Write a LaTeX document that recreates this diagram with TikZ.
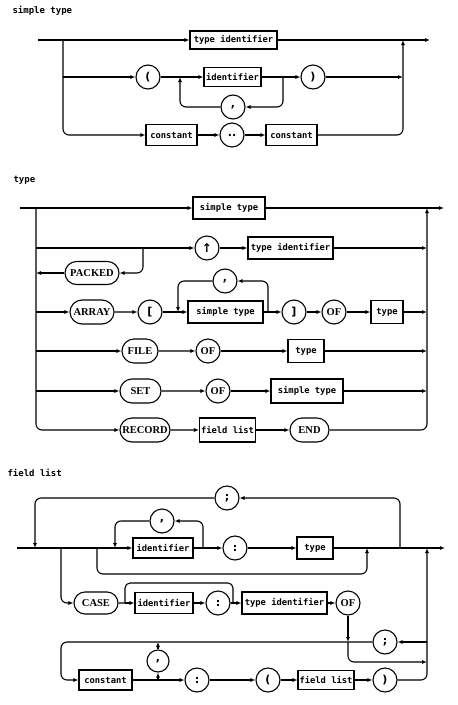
\documentclass[tikz,border=0pt]{standalone}
\usepackage{fontspec}
\newfontfamily\ntfont{DejaVu Sans Mono}
\newfontfamily\kwfont{Liberation Serif}
\newfontfamily\symfont{DejaVu Sans}
\usetikzlibrary{arrows.meta,shapes.misc}
\tikzset{
  ar/.style={-{Latex[length=5pt,width=4pt]}},
  nt/.style={draw,rectangle,minimum height=20pt,inner sep=1.5pt,font=\ntfont\bfseries\fontsize{8.8}{10}\selectfont},
  kw/.style={draw,rounded rectangle,minimum height=23pt,inner xsep=3pt,font=\kwfont\bfseries\fontsize{10.5}{12}\selectfont},
  sym/.style={draw,circle,minimum size=24pt,inner sep=0pt,font=\symfont\bfseries\fontsize{11}{12}\selectfont},
  symkw/.style={sym,font=\kwfont\bfseries\fontsize{10.5}{12}\selectfont},
  ttl/.style={anchor=west,inner sep=0pt,font=\ntfont\bfseries\fontsize{9}{10}\selectfont},
  rc/.style={rounded corners=6pt}
}
\begin{document}
\begin{tikzpicture}[x=1pt,y=-1pt,line width=1.1pt]
\useasboundingbox (0,0) rectangle (458,705);

% ================= simple type =================
\node[ttl] (sTitle) at (12,11) {simple type};
\coordinate (sIn) at (38,40);
\coordinate (sJ1) at (63,40);
\coordinate (sJ2) at (63,77);
\coordinate (sJ3) at (63,135);
\coordinate (sOut) at (430,40);
\coordinate (sR1) at (403,40);
\coordinate (sR2) at (403,77);
\coordinate (sR3) at (403,135);
\coordinate (sA) at (180,77);
\coordinate (sAb) at (180,107);
\coordinate (sB) at (283,77);
\coordinate (sBb) at (283,107);

\node[nt,minimum width=87pt,minimum height=18pt] (sTid) at (233.5,40) {type identifier};
\node[sym] (sLp) at (148,77) {(};
\node[nt,minimum width=57pt,minimum height=19pt] (sId) at (232.5,77) {identifier};
\node[sym] (sRp) at (313,77) {)};
\node[sym] (sCm) at (233,107) {,};
\node[nt,minimum width=51pt,minimum height=21pt] (sC1) at (171.5,135) {constant};
\node[sym] (sDd) at (232,135) {..};
\node[nt,minimum width=51pt,minimum height=21pt] (sC2) at (291.5,135) {constant};

\draw (sIn) -- (sJ1);
\draw[ar] (sJ1) -- (sTid);
\draw[ar] (sTid) -- (sOut);
\draw[ar,rc] (sJ1) -- (sJ3) -- (sC1);
\draw[ar] (sJ2) -- (sLp);
\draw (sLp) -- (sA);
\draw[ar] (sA) -- (sId);
\draw (sId) -- (sB);
\draw[ar] (sB) -- (sRp);
\draw[ar] (sRp) -- (sR2);
\draw[ar,rc] (sB) -- (sBb) -- (sCm);
\draw[ar,rc] (sCm) -- (sAb) -- (sA);
\draw[ar] (sC1) -- (sDd);
\draw[ar] (sDd) -- (sC2);
\draw[ar,rc] (sC2) -- (sR3) -- (sR1);

% ================= type =================
\node[ttl] (tTitle) at (13,180) {type};
\coordinate (tIn) at (20,208);
\coordinate (tJ1) at (36,208);
\coordinate (tJ2) at (36,248);
\coordinate (tJ3) at (36,273);
\coordinate (tJ4) at (36,312);
\coordinate (tJ5) at (36,351);
\coordinate (tJ6) at (36,391);
\coordinate (tJ7) at (36,430);
\coordinate (tOut) at (444,208);
\coordinate (tR1) at (427,208);
\coordinate (tR2) at (427,248);
\coordinate (tR4) at (427,312);
\coordinate (tR5) at (427,351);
\coordinate (tR6) at (427,391);
\coordinate (tR7) at (427,430);
\coordinate (tP1) at (143,248);
\coordinate (tP2) at (143,273);
\coordinate (tA) at (178,312);
\coordinate (tAt) at (178,281);
\coordinate (tB) at (268,312);
\coordinate (tBt) at (268,281);

\node[nt,minimum width=72pt,minimum height=22pt] (tSt) at (229,208) {simple type};
\node[sym,font=\symfont\bfseries\fontsize{12}{13}\selectfont] (tUp) at (207,248) {↑};
\node[nt,minimum width=85pt,minimum height=22pt] (tTid) at (290.5,248) {type identifier};
\node[kw,minimum width=60pt] (tPk) at (92,273) {PACKED};
\node[kw,minimum width=50pt,minimum height=24pt] (tAr) at (92,312) {ARRAY};
\node[sym] (tLb) at (150,312) {[};
\node[nt,minimum width=75pt,minimum height=22pt] (tSt2) at (225.5,312) {simple type};
\node[sym] (tCm) at (225,281) {,};
\node[sym] (tRb) at (294,312) {]};
\node[symkw] (tOf1) at (334,312) {OF};
\node[nt,minimum width=32pt,minimum height=23pt] (tTy1) at (387,312) {type};
\node[kw,minimum width=42pt,minimum height=24pt] (tFi) at (140,351) {FILE};
\node[symkw] (tOf2) at (208,351) {OF};
\node[nt,minimum width=36pt,minimum height=23pt] (tTy2) at (306,351) {type};
\node[kw,minimum width=47pt,minimum height=24pt] (tSe) at (140.5,391) {SET};
\node[symkw] (tOf3) at (218,391) {OF};
\node[nt,minimum width=72pt,minimum height=24pt] (tSt3) at (307,391) {simple type};
\node[kw,minimum width=56pt,minimum height=24pt] (tRe) at (145,430) {RECORD};
\node[nt,minimum width=55pt,minimum height=24pt] (tFl) at (227.5,430) {field list};
\node[kw,minimum width=45pt,minimum height=24pt] (tEn) at (309.5,430) {END};

\draw (tIn) -- (tJ1);
\draw[ar] (tJ1) -- (tSt);
\draw[ar] (tSt) -- (tOut);
\draw[ar,rc] (tJ1) -- (tJ7) -- (tRe);
\draw[ar] (tJ2) -- (tUp);
\draw[ar] (tUp) -- (tTid);
\draw[ar] (tTid) -- (tR2);
\draw[ar,rc] (tP1) -- (tP2) -- (tPk);
\draw[ar] (tPk) -- (tJ3);
\draw[ar] (tJ4) -- (tAr);
\draw[ar] (tAr) -- (tLb);
\draw (tLb) -- (tA);
\draw[ar] (tA) -- (tSt2);
\draw (tSt2) -- (tB);
\draw[ar] (tB) -- (tRb);
\draw[ar,rc] (tB) -- (tBt) -- (tCm);
\draw[ar,rc] (tCm) -- (tAt) -- (tA);
\draw[ar] (tRb) -- (tOf1);
\draw[ar] (tOf1) -- (tTy1);
\draw[ar] (tTy1) -- (tR4);
\draw[ar] (tJ5) -- (tFi);
\draw[ar] (tFi) -- (tOf2);
\draw[ar] (tOf2) -- (tTy2);
\draw[ar] (tTy2) -- (tR5);
\draw[ar] (tJ6) -- (tSe);
\draw[ar] (tSe) -- (tOf3);
\draw[ar] (tOf3) -- (tSt3);
\draw[ar] (tSt3) -- (tR6);
\draw[ar] (tRe) -- (tFl);
\draw[ar] (tFl) -- (tEn);
\draw[ar,rc] (tEn) -- (tR7) -- (tR1);

% ================= field list =================
\node[ttl] (fTitle) at (7,473) {field list};
\coordinate (fIn) at (17,548);
\coordinate (fL) at (35,548);
\coordinate (fLt) at (35,498);
\coordinate (fC) at (61,548);
\coordinate (fCb) at (61,603);
\coordinate (fBy) at (97,548);
\coordinate (fByb) at (97,574);
\coordinate (fByr) at (367,574);
\coordinate (fByt) at (367,548);
\coordinate (fS) at (115,548);
\coordinate (fSt) at (115,521);
\coordinate (fJ) at (203,548);
\coordinate (fJt) at (203,521);
\coordinate (fT) at (400,548);
\coordinate (fTt) at (400,498);
\coordinate (fR) at (427,548);
\coordinate (fOut) at (445,548);
\coordinate (fK) at (125,603);
\coordinate (fKt) at (125,583);
\coordinate (fM) at (233,603);
\coordinate (fMt) at (233,583);
\coordinate (fV1) at (348,642);
\coordinate (fV2) at (348,662);
\coordinate (fRb) at (427,662);
\coordinate (fRs) at (427,642);
\coordinate (fQ1) at (61,642);
\coordinate (fQ2) at (61,680);
\coordinate (fX) at (158,680);
\coordinate (fXt) at (158,642);
\coordinate (fRc) at (427,680);

\node[sym] (fSemi) at (227,498) {;};
\node[sym] (fCm) at (162,521) {,};
\node[nt,minimum width=60pt,minimum height=20pt] (fId) at (163,548) {identifier};
\node[sym] (fCo) at (235,548) {:};
\node[nt,minimum width=36pt,minimum height=22pt] (fTy) at (315,548) {type};
\node[kw,minimum width=50pt,minimum height=22pt] (fCase) at (96,603) {CASE};
\node[nt,minimum width=58pt,minimum height=21pt] (fId2) at (164,603) {identifier};
\node[sym] (fCo2) at (218,603) {:};
\node[nt,minimum width=85pt,minimum height=22pt] (fTid) at (284.5,603) {type identifier};
\node[symkw] (fOf) at (348,603) {OF};
\node[sym] (fSemi2) at (385,642) {;};
\node[nt,minimum width=53pt,minimum height=20pt] (fConst) at (105.5,680) {constant};
\node[sym,minimum size=22pt] (fCm2) at (158,661) {,};
\node[sym] (fCo3) at (197,680) {:};
\node[sym] (fLp) at (268,680) {(};
\node[nt,minimum width=52pt,minimum height=19pt] (fFl) at (326,680) {field list};
\node[sym] (fRp) at (385,680) {)};

\draw (fIn) -- (fS);
\draw[ar] (fS) -- (fId);
\draw (fId) -- (fJ);
\draw[ar] (fJ) -- (fCo);
\draw[ar] (fCo) -- (fTy);
\draw[ar] (fTy) -- (fOut);
\draw[ar,rc] (fT) -- (fTt) -- (fSemi);
\draw[ar,rc] (fSemi) -- (fLt) -- (fL);
\draw[ar,rc] (fJ) -- (fJt) -- (fCm);
\draw[ar,rc] (fCm) -- (fSt) -- (fS);
\draw[ar,rc] (fBy) -- (fByb) -- (fByr) -- (fByt);
\draw[ar,rc] (fC) -- (fCb) -- (fCase);
\draw (fCase) -- (fK);
\draw[ar] (fK) -- (fId2);
\draw[ar] (fId2) -- (fCo2);
\draw (fCo2) -- (fM);
\draw[ar] (fM) -- (fTid);
\draw[ar] (fTid) -- (fOf);
\draw[rounded corners=5pt] (fK) -- (fKt) -- (fMt) -- (fM);
\draw[ar] (fOf) -- (fV1);
\draw[ar,rc] (fV1) -- (fV2) -- (fRb);
\draw[ar] (fRs) -- (fSemi2);
\draw[ar,rc] (fSemi2) -- (fQ1) -- (fQ2) -- (fConst);
\draw (fConst) -- (fX);
\draw[ar] (fX) -- (fCo3);
\draw[ar] (fX) -- (fCm2);
\draw[ar] (fCm2) -- (fXt);
\draw[ar] (fCo3) -- (fLp);
\draw[ar] (fLp) -- (fFl);
\draw[ar] (fFl) -- (fRp);
\draw[ar,rc] (fRp) -- (fRc) -- (fR);
\end{tikzpicture}
\end{document}
